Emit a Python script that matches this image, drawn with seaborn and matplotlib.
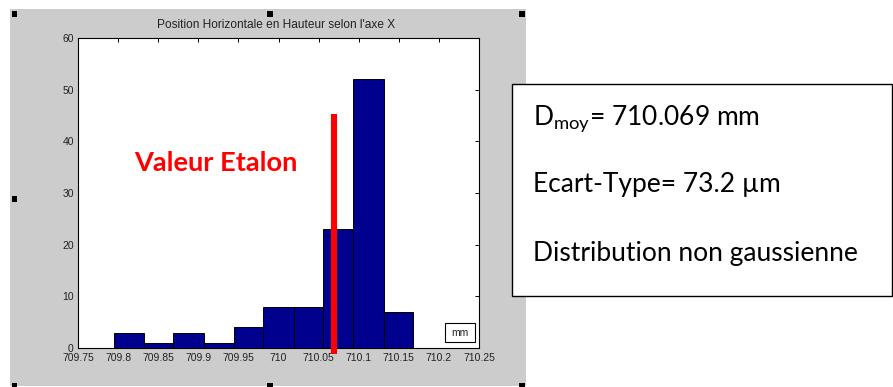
import numpy as np
import pandas as pd
import matplotlib
matplotlib.use('Agg')
import matplotlib.pyplot as plt
from matplotlib.patches import Rectangle
import seaborn as sns

# Histogram (MATLAB hist, 10 bins)
bin_edges = [709.7945, 709.832, 709.869, 709.907, 709.944, 709.981,
             710.019, 710.056, 710.093, 710.131, 710.168]
counts = [3, 1, 3, 1, 4, 8, 8, 23, 52, 7]
etalon_value = 710.069
etalon_top = 45.2

x_ticks = [709.75, 709.8, 709.85, 709.9, 709.95, 710, 710.05, 710.1, 710.15, 710.2, 710.25]
x_tick_labels = ['709.75', '709.8', '709.85', '709.9', '709.95', '710',
                 '710.05', '710.1', '710.15', '710.2', '710.25']
y_ticks = [0, 10, 20, 30, 40, 50, 60]

title = "Position Horizontale en Hauteur selon l'axe X"
info_lines = [r"D$_\mathregular{moy}$= 710.069 mm",
              "Ecart-Type= 73.2 \u00b5m",
              "Distribution non gaussienne"]

sns.set_style('white')
plt.rcParams['font.family'] = ['Liberation Sans', 'DejaVu Sans']
plt.rcParams['mathtext.fontset'] = 'custom'
plt.rcParams['mathtext.rm'] = 'Lato'

W, H = 893, 387
fig = plt.figure(figsize=(W / 100, H / 100), dpi=100)
fig.patch.set_facecolor('white')


def px_rect(x0, y0, x1, y1):
    # pixel box (top-left origin) -> figure fraction [l, b, w, h]
    return [x0 / W, (H - y1) / H, (x1 - x0) / W, (y1 - y0) / H]


# grey MATLAB figure panel
l, b, w, h = px_rect(10, 9, 526, 386)
fig.add_artist(Rectangle((l, b), w, h, transform=fig.transFigure,
                         facecolor='#cccccc', edgecolor='none', zorder=0))

# selection handles
for cx, cy in [(14.5, 14), (270, 14), (522, 14), (14.5, 199),
               (14.5, 385.5), (270, 385.5), (522, 385.5)]:
    l, b, w, h = px_rect(cx - 2.7, cy - 2.7, cx + 2.7, cy + 2.7)
    fig.add_artist(Rectangle((l, b), w, h, transform=fig.transFigure,
                             facecolor='black', edgecolor='none', zorder=1))

ax = fig.add_axes(px_rect(78, 38, 479, 348))
ax.set_facecolor('white')

df = pd.DataFrame({'center': (np.array(bin_edges[:-1]) + np.array(bin_edges[1:])) / 2,
                   'count': counts})
sns.histplot(data=df, x='center', weights='count', bins=bin_edges, ax=ax,
             color='#00008f', edgecolor='black', linewidth=0.7, alpha=1)

ax.vlines(etalon_value, -1.2, etalon_top, color='#ff0000', linewidth=4.4,
          clip_on=False, zorder=5)
ax.text(709.8195, 35.8, 'Valeur Etalon', color='#ff0000', fontsize=19.6,
        fontweight='bold', family=['Lato', 'DejaVu Sans'], ha='left', va='center')

ax.set_xlim(709.75, 710.25)
ax.set_ylim(0, 60)
ax.set_xticks(x_ticks)
ax.set_xticklabels(x_tick_labels)
ax.set_yticks(y_ticks)
ax.set_xlabel('')
ax.set_ylabel('')
ax.tick_params(direction='in', length=3, width=0.7, labelsize=7.5,
               top=True, right=True, pad=3, colors='black', labelcolor='#222222')
ax.tick_params(axis='x', pad=3.6)
for sp in ax.spines.values():
    sp.set_visible(True)
    sp.set_color('black')
    sp.set_linewidth(0.8)

# "mm" label box in lower right corner
ax.add_patch(Rectangle((0.915, 0.019), 0.0748, 0.0613, transform=ax.transAxes,
                       facecolor='white', edgecolor='black', linewidth=0.8, zorder=6))
ax.text(0.9524, 0.05, 'mm', transform=ax.transAxes, fontsize=7.5,
        ha='center', va='center', zorder=7, color='#222222')

fig.text(276 / W, 1 - 25 / H, title, fontsize=8.6, ha='center', va='center',
         color='#222222')

# info box on the right
l, b, w, h = px_rect(512, 84, 892, 296)
fig.add_artist(Rectangle((l, b), w, h, transform=fig.transFigure,
                         facecolor='white', edgecolor='black', linewidth=1.0, zorder=3))
for line, base in zip(info_lines, [124, 192.5, 261.5]):
    fig.text(533 / W, 1 - base / H, line, fontsize=19, family=['Lato', 'DejaVu Sans'],
             ha='left', va='baseline', color='black', zorder=4)

fig.savefig('out.png', dpi=100)
